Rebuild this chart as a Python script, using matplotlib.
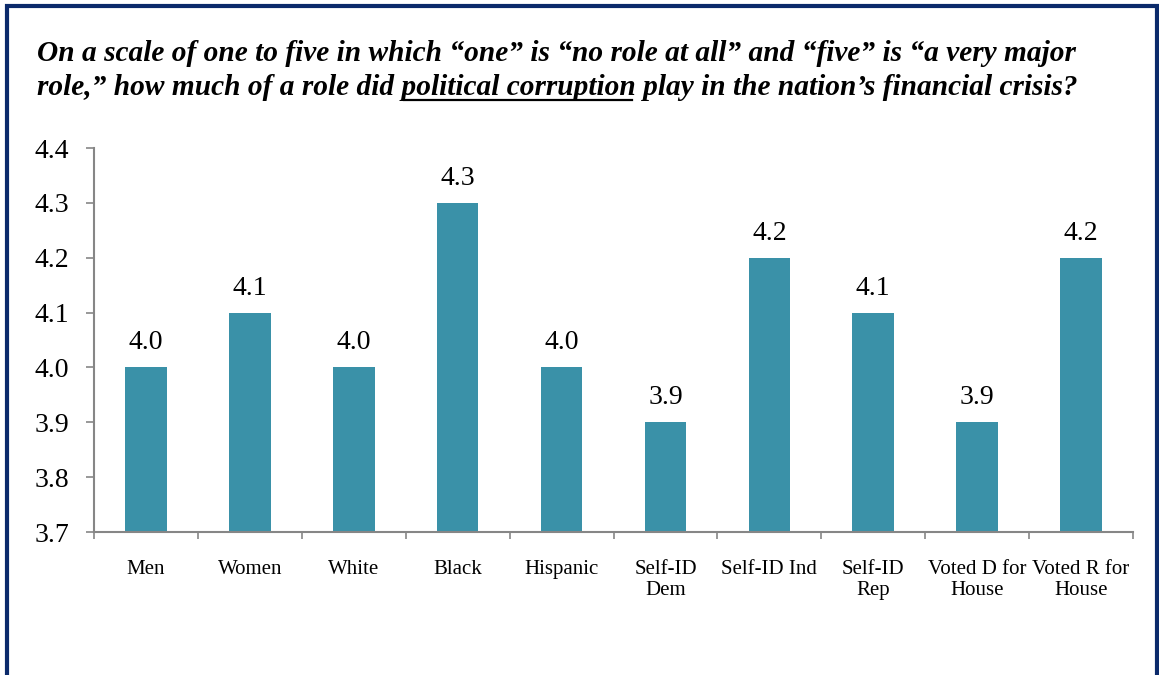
import numpy as np
import matplotlib.pyplot as plt
from matplotlib.patches import Rectangle
from matplotlib.lines import Line2D

# Umfragewerte (Mittelwert auf der 1-5 Skala)
groups = ["Men", "Women", "White", "Black", "Hispanic", "Self-ID\nDem",
          "Self-ID Ind", "Self-ID\nRep", "Voted D for\nHouse", "Voted R for\nHouse"]
scores = [4.0, 4.1, 4.0, 4.3, 4.0, 3.9, 4.2, 4.1, 3.9, 4.2]
yticks = [3.7, 3.8, 3.9, 4.0, 4.1, 4.2, 4.3, 4.4]

title_1 = "On a scale of one to five in which \u201cone\u201d is \u201cno role at all\u201d and \u201cfive\u201d is \u201ca very major"
title_2a = "role,\u201d how much of a role did "
title_2b = "political corruption"
title_2c = " play in the nation\u2019s financial crisis?"

plt.rcParams['font.family'] = ['Liberation Serif', 'DejaVu Serif']

W, H = 1159, 675
f = plt.figure(figsize=(W / 100, H / 100), dpi=100)
ax = f.add_axes([94 / W, 1 - 532 / H, (1133 - 94) / W, (532 - 148) / H])

bar_color = "#3A91A8"
x = np.arange(len(groups))
ax.bar(x, scores, width=0.4, color=bar_color, zorder=2)
for xi, v in zip(x, scores):
    ax.text(xi, v + 0.022, "%.1f" % v, ha="center", va="bottom", fontsize=20)

ax.set_xlim(-0.5, len(groups) - 0.5)
ax.set_ylim(3.7, 4.4)
ax.set_yticks(yticks)
ax.set_yticklabels(["%.1f" % t for t in yticks], fontsize=20)
ax.set_xticks(x)
ax.set_xticklabels(groups, fontsize=15, linespacing=1.15)
ax.set_xticks(np.arange(len(groups) + 1) - 0.5, minor=True)
ax.tick_params(axis="x", which="major", length=0, pad=20)
ax.tick_params(axis="x", which="minor", length=5, color="#868686", width=1.2, direction="out")
ax.tick_params(axis="y", length=6, color="#868686", width=1.2, pad=12)
for s in ["top", "right"]:
    ax.spines[s].set_visible(False)
for s in ["left", "bottom"]:
    ax.spines[s].set_color("#868686")
    ax.spines[s].set_linewidth(1.5)

# Titel, zweite Zeile mit Unterstreichung
tkw = dict(fontsize=21.2, fontweight="bold", fontstyle="italic", va="baseline", ha="left")
f.text(37 / W, 1 - 61 / H, title_1, **tkw)
line2 = f.text(37 / W, 1 - 95 / H, title_2a + title_2b + title_2c, **tkw)

f.canvas.draw()
r = f.canvas.get_renderer()
tmp = f.text(0, 0, title_2a, **tkw)
w_a = tmp.get_window_extent(r).width
tmp.set_text(title_2a + title_2b)
w_ab = tmp.get_window_extent(r).width
tmp.remove()
x0 = 37 + w_a + 2
x1 = 37 + w_ab - 4
f.add_artist(Line2D([x0 / W, x1 / W], [1 - 100 / H, 1 - 100 / H], color="black", lw=1.6))

# Rahmen um die Grafik (unten offen)
f.add_artist(Rectangle((6.5 / W, -0.1), (1157 - 6.5) / W, 1.1 - 6 / H,
                       fill=False, edgecolor="#0B2A6B", lw=3, transform=f.transFigure))

f.savefig("out.png", dpi=100)
